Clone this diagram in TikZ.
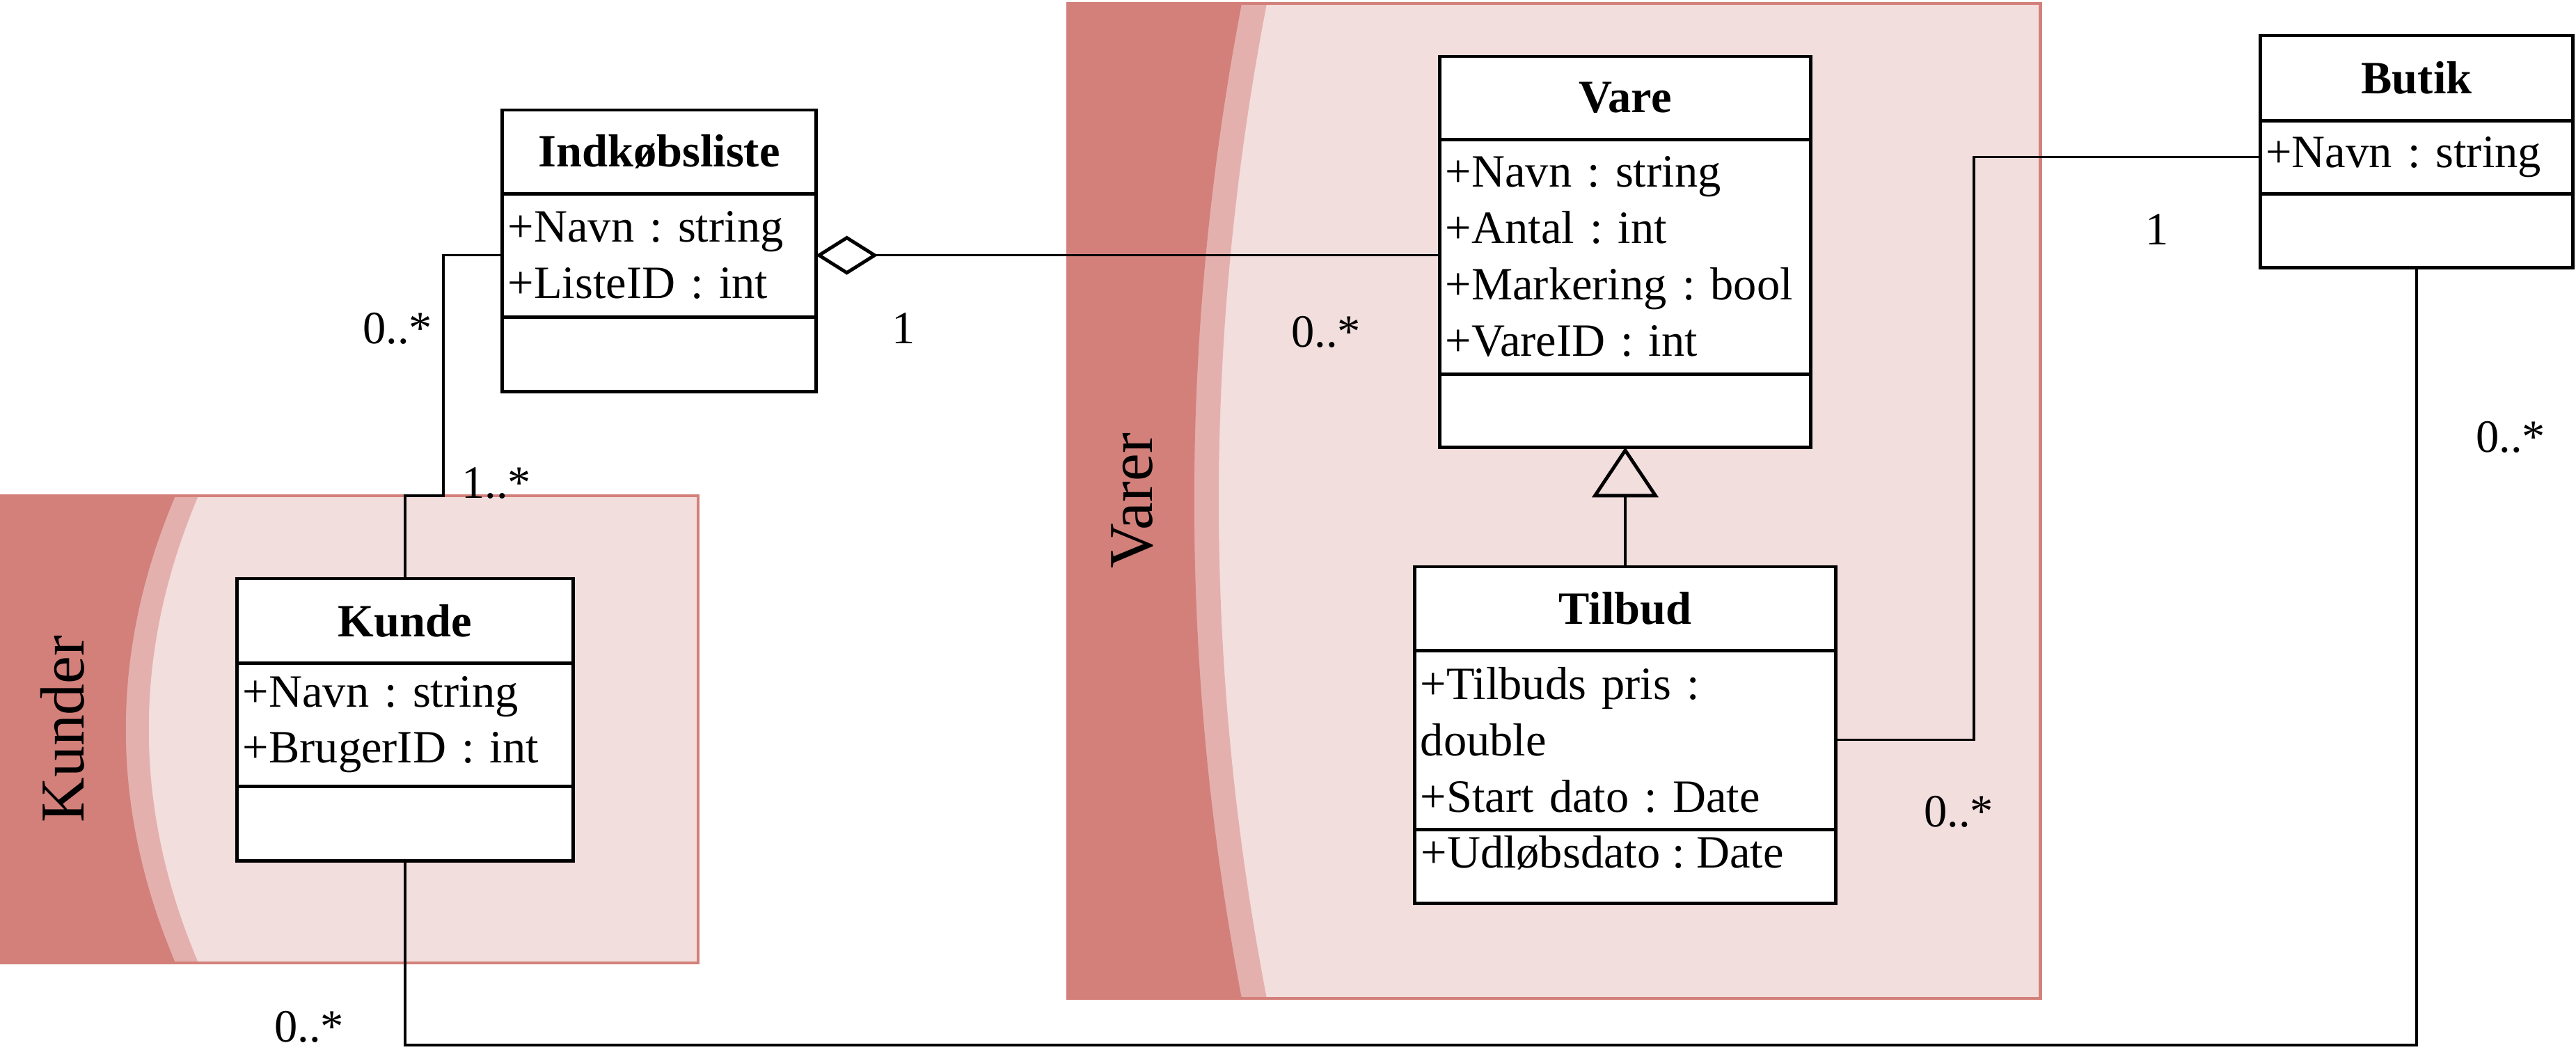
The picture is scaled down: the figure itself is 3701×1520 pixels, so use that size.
\documentclass[tikz,border=0pt]{standalone}
\usepackage{fontspec}
\setmainfont{Liberation Serif}
\usepackage{tikz}
\usetikzlibrary{arrows.meta, positioning}
\usepackage{xcolor}
\definecolor{pkdark}{RGB}{211,128,122}
\definecolor{pkmid}{RGB}{228,176,174}
\definecolor{pklight}{RGB}{242,222,221}
\newcommand{\umlfont}{\fontsize{18.9}{23}\selectfont}
\frenchspacing

\begin{document}
\begin{tikzpicture}[
    x=0.01cm, y=-0.01cm,
    classhead/.style={draw, line width=1.4pt, fill=white, font=\umlfont\bfseries, inner sep=0pt, outer sep=0pt, anchor=north},
    classpart/.style={draw, line width=1.4pt, fill=white, align=left, font=\umlfont, inner xsep=0.08cm, inner ysep=0pt, outer sep=0pt},
    optext/.style={anchor=north west, font=\umlfont, inner xsep=0.08cm, inner ysep=0.08cm},
    assoc/.style={line width=1pt},
    mult/.style={font=\umlfont, inner sep=0pt},
    container/.style={draw=pkdark, line width=1.4pt},
    grouplabel/.style={font=\fontsize{25.5}{30}\selectfont, rotate=90}
]
\useasboundingbox (0,0) rectangle (3701,1520);

% Containers
\fill[pklight] (0,712) rectangle (1003,1383);
\fill[pkmid] (0,712) -- (285,712) .. controls (190,935.7) and (190,1159.3) .. (285,1383) -- (0,1383) -- cycle;
\fill[pkdark] (0,712) -- (252,712) .. controls (157,935.7) and (157,1159.3) .. (252,1383) -- (0,1383) -- cycle;
\draw[container] (0,712) rectangle (1003,1383);

\fill[pklight] (1534,5) rectangle (2931,1434);
\fill[pkmid] (1534,5) -- (1820,5) .. controls (1728,481.3) and (1728,957.7) .. (1820,1434) -- (1534,1434) -- cycle;
\fill[pkdark] (1534,5) -- (1784,5) .. controls (1693,481.3) and (1693,957.7) .. (1784,1434) -- (1534,1434) -- cycle;
\draw[container] (1534,5) rectangle (2931,1434);

\node[grouplabel] (kunderlbl) at (90,1047) {Kunder};
\node[grouplabel] (varerlbl) at (1627,719) {Varer};

% Indkobsliste
\node[classhead, minimum width=4.5cm, minimum height=1.2cm] (ind) at (947,158) {Indkøbsliste};
\node[classpart, below=0pt of ind, text width=4.34cm, minimum height=1.77cm] (ind-a) {+Navn : string\\+ListeID : int};
\node[classpart, below=0pt of ind-a, text width=4.34cm, minimum height=1.07cm] (ind-m) {};

% Kunde
\node[classhead, minimum width=4.82cm, minimum height=1.21cm] (kunde) at (582,831) {Kunde};
\node[classpart, below=0pt of kunde, text width=4.66cm, minimum height=1.77cm] (kunde-a) {+Navn : string\\+BrugerID : int};
\node[classpart, below=0pt of kunde-a, text width=4.66cm, minimum height=1.07cm] (kunde-m) {};

% Vare
\node[classhead, minimum width=5.32cm, minimum height=1.19cm] (vare) at (2335,81) {Vare};
\node[classpart, below=0pt of vare, text width=5.16cm, minimum height=3.37cm] (vare-a) {+Navn : string\\+Antal : int\\+Markering : bool\\+VareID : int};
\node[classpart, below=0pt of vare-a, text width=5.16cm, minimum height=1.05cm] (vare-m) {};

% Tilbud
\node[classhead, minimum width=6.04cm, minimum height=1.2cm] (tilbud) at (2335,814) {Tilbud};
\node[classpart, below=0pt of tilbud, text width=5.88cm, minimum height=2.57cm] (tilbud-a) {+Tilbuds pris :\\double\\+Start dato : Date};
\node[classpart, below=0pt of tilbud-a, text width=5.88cm, minimum height=1.06cm] (tilbud-m) {};
\node[optext] (tilbud-op) at (tilbud-m.north west) {+Udløbsdato : Date};

% Butik
\node[classhead, minimum width=4.49cm, minimum height=1.22cm] (butik) at (3472,51) {Butik};
\node[classpart, below=0pt of butik, text width=4.33cm, minimum height=1.05cm] (butik-a) {+Navn : string};
\node[classpart, below=0pt of butik-a, text width=4.33cm, minimum height=1.06cm] (butik-m) {};

% Connectors
\coordinate (kstep) at (637,712);
\coordinate (tbcorner) at (2836,0);
\coordinate (kbottom) at (0,1501);
\draw[assoc, {Diamond[open, length=0.89cm, width=0.56cm, line width=1.4pt]}-] (ind-a.east) -- (ind-a.east -| vare-a.west);
\draw[assoc, -{Triangle[open, length=0.72cm, width=0.95cm, line width=1.4pt]}] (tilbud.north) -- (vare-m.south);
\draw[assoc] (tilbud-a.east) -| (tbcorner |- butik-a.west) -- (butik-a.west);
\draw[assoc] (ind-a.west) -| (kstep) -| (kunde.north);
\draw[assoc] (kunde-m.south) |- (kbottom -| butik-m.south) -- (butik-m.south);

% Multiplicities
\node[mult] (m-ind-k) at (571,472) {0..*};
\node[mult] (m-k-ind) at (713,694) {1..*};
\node[mult] (m-ind-v) at (1298,472) {1};
\node[mult] (m-v-ind) at (1905,477) {0..*};
\node[mult] (m-t-b) at (2814,1166) {0..*};
\node[mult] (m-b-t) at (3099,330) {1};
\node[mult] (m-b-k) at (3607,628) {0..*};
\node[mult] (m-k-b) at (444,1475) {0..*};
\end{tikzpicture}
\end{document}
